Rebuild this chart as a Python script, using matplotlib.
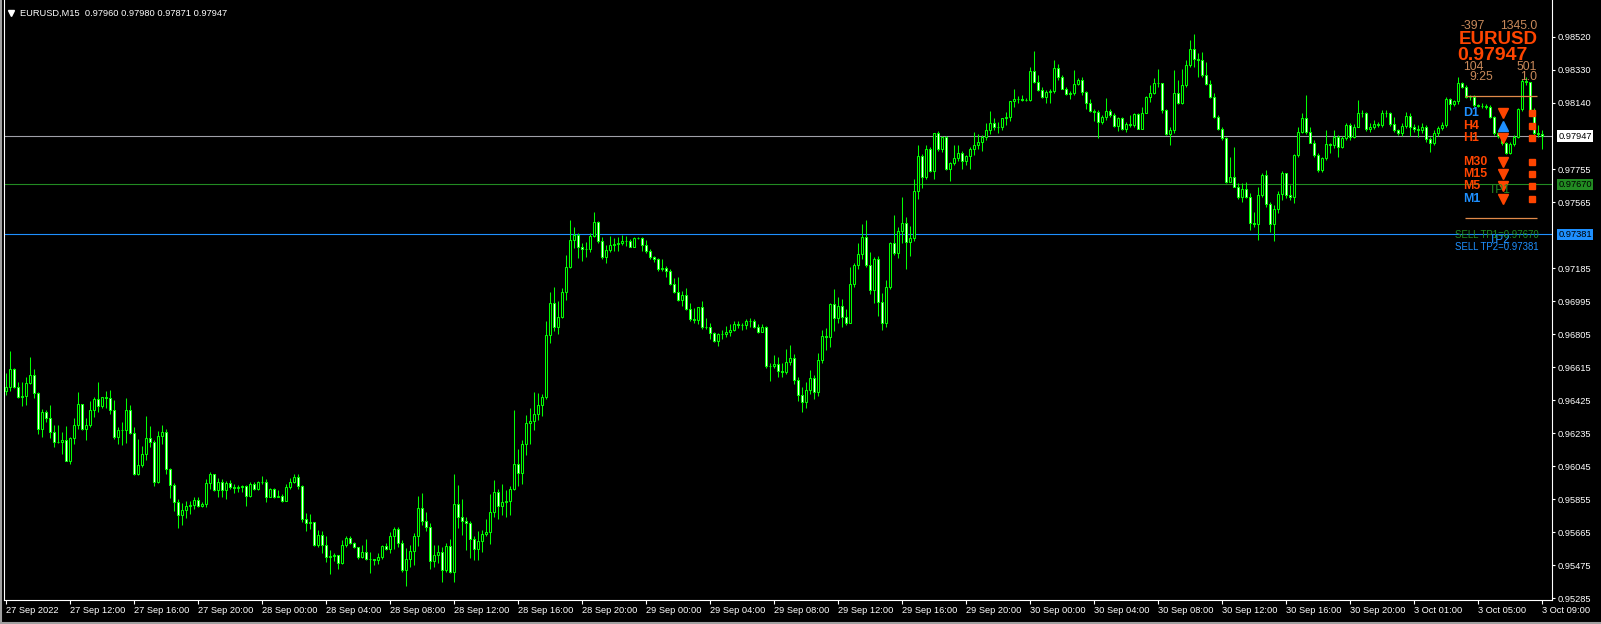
"""EURUSD M15 candlestick chart, MetaTrader style (Green on Black)."""

import matplotlib

matplotlib.use("Agg")
import matplotlib.pyplot as plt
import numpy as np
from matplotlib.lines import Line2D

# Bar data in points (1e-5). Open of each bar = close of the previous one.
first_open = 96480
closes = [
    96504, 96603, 96500, 96446, 96450, 96523, 96571, 96469, 96262, 96358,
    96321, 96244, 96187, 96187, 96196, 96077, 96206, 96281, 96404, 96258,
    96281, 96369, 96431, 96392, 96442, 96436, 96369, 96216, 96254, 96254,
    96369, 96235, 96001, 96050, 96116, 96206, 96187, 95951, 96219, 96242,
    96031, 95935, 95836, 95763, 95793, 95816, 95822, 95851, 95818, 95826,
    95947, 96001, 95908, 95956, 95908, 95947, 95924, 95920, 95924, 95928,
    95876, 95943, 95912, 95951, 95956, 95870, 95912, 95866, 95876, 95847,
    95924, 95951, 95981, 95928, 95739, 95720, 95722, 95590, 95647, 95593,
    95524, 95528, 95532, 95486, 95590, 95632, 95601, 95578, 95524, 95553,
    95513, 95509, 95505, 95521, 95586, 95570, 95644, 95682, 95605, 95448,
    95509, 95559, 95644, 95805, 95732, 95697, 95496, 95534, 95551, 95448,
    95586, 95438, 95828, 95755, 95732, 95720, 95628, 95567, 95613, 95655,
    95667, 95782, 95897, 95813, 95839, 95845, 95912, 96058, 96005, 96173,
    96293, 96308, 96346, 96398, 96444, 96801, 96984, 96846, 96907, 97049,
    97191, 97349, 97377, 97306, 97295, 97297, 97372, 97452, 97345, 97249,
    97291, 97318, 97326, 97329, 97341, 97345, 97310, 97358, 97360, 97318,
    97287, 97249, 97237, 97180, 97187, 97172, 97093, 97051, 97003, 97030,
    96953, 96892, 96888, 96961, 96846, 96849, 96811, 96769, 96807, 96807,
    96817, 96830, 96865, 96861, 96857, 96880, 96880, 96849, 96821, 96846,
    96625, 96625, 96634, 96596, 96588, 96646, 96669, 96542, 96456, 96415,
    96484, 96553, 96473, 96657, 96795, 96792, 96980, 96899, 96968, 96907,
    96872, 97095, 97203, 97268, 97364, 97206, 97060, 97237, 96993, 96872,
    97076, 97329, 97275, 97398, 97444, 97337, 97358, 97629, 97832, 97709,
    97871, 97744, 97963, 97871, 97944, 97759, 97790, 97819, 97851, 97805,
    97832, 97871, 97894, 97911, 97944, 97982, 98024, 98001, 98001, 98049,
    98055, 98147, 98159, 98162, 98155, 98155, 98324, 98260, 98212, 98174,
    98201, 98205, 98337, 98285, 98220, 98187, 98193, 98247, 98270, 98203,
    98136, 98093, 98086, 98030, 98055, 98090, 98068, 98005, 98051, 97986,
    98017, 98013, 98072, 97990, 98082, 98170, 98193, 98251, 98255, 98097,
    97959, 97982, 98193, 98139, 98241, 98356, 98447, 98389, 98385, 98299,
    98247, 98174, 98055, 97986, 97934, 97684, 97709, 97656, 97594, 97640,
    97598, 97444, 97442, 97606, 97723, 97556, 97441, 97525, 97613, 97732,
    97608, 97598, 97836, 97972, 98049, 97972, 97909, 97836, 97752, 97819,
    97901, 97896, 97940, 97886, 97934, 98011, 97940, 98001, 98078, 98078,
    97986, 98001, 98017, 98011, 98078, 98078, 98017, 97982, 97963, 98005,
    98063, 98001, 97986, 97982, 98001, 97928, 97905, 97963, 97993, 98009,
    98159, 98132, 98147, 98251, 98232, 98174, 98170, 98126, 98120, 98120,
    98116, 98055, 97963, 97947, 97905, 97851, 97901, 97944, 98101, 98266,
    98260, 98097, 97963, 97960, 97947,
]
highs = [
    96580, 96709, 96609, 96532, 96532, 96561, 96676, 96603, 96473, 96377,
    96369, 96398, 96283, 96283, 96244, 96277, 96212, 96321, 96473, 96404,
    96323, 96423, 96446, 96532, 96446, 96479, 96484, 96427, 96273, 96302,
    96438, 96398, 96269, 96202, 96162, 96335, 96277, 96196, 96250, 96285,
    96258, 96035, 95947, 95855, 95835, 95843, 95847, 95870, 95866, 95839,
    95972, 96012, 96001, 95978, 95974, 95960, 95966, 95943, 95937, 95937,
    95939, 95954, 95954, 95962, 95989, 95970, 95920, 95920, 95908, 95882,
    95943, 95976, 96001, 96001, 95935, 95778, 95770, 95724, 95678, 95672,
    95643, 95563, 95544, 95534, 95620, 95643, 95640, 95609, 95582, 95592,
    95626, 95551, 95513, 95544, 95592, 95605, 95668, 95697, 95693, 95621,
    95573, 95592, 95659, 95874, 95889, 95782, 95717, 95590, 95592, 95582,
    95605, 95624, 96001, 95937, 95857, 95751, 95732, 95640, 95669, 95678,
    95740, 95886, 95966, 95912, 95943, 95909, 95928, 96366, 96143, 96193,
    96341, 96381, 96473, 96465, 96462, 96884, 97049, 97076, 96999, 97070,
    97262, 97464, 97425, 97387, 97329, 97339, 97387, 97510, 97460, 97368,
    97320, 97372, 97358, 97368, 97379, 97372, 97352, 97364, 97368, 97364,
    97349, 97295, 97256, 97243, 97237, 97199, 97180, 97128, 97137, 97057,
    97072, 96984, 96955, 96965, 96997, 96897, 96869, 96821, 96815, 96830,
    96853, 96865, 96880, 96880, 96872, 96892, 96897, 96892, 96865, 96865,
    96853, 96638, 96686, 96673, 96640, 96720, 96745, 96690, 96560, 96500,
    96530, 96600, 96570, 96700, 96830, 96840, 96984, 97064, 97022, 97007,
    96949, 97195, 97214, 97329, 97441, 97464, 97279, 97252, 97256, 97041,
    97118, 97337, 97490, 97425, 97598, 97483, 97429, 97698, 97894, 97844,
    97894, 97886, 97967, 97974, 97947, 97947, 97798, 97894, 97894, 97859,
    97840, 97882, 97970, 97959, 97951, 98020, 98090, 98051, 98028, 98051,
    98086, 98151, 98216, 98178, 98182, 98166, 98347, 98435, 98297, 98228,
    98212, 98220, 98385, 98362, 98297, 98228, 98209, 98328, 98283, 98289,
    98209, 98162, 98105, 98097, 98066, 98166, 98101, 98078, 98059, 98059,
    98028, 98066, 98078, 98078, 98113, 98178, 98241, 98281, 98331, 98251,
    98101, 98001, 98328, 98270, 98331, 98385, 98500, 98535, 98424, 98431,
    98376, 98270, 98193, 98068, 98001, 97944, 97828, 97886, 97675, 97675,
    97684, 97617, 97512, 97656, 97733, 97752, 97569, 97550, 97633, 97744,
    97733, 97665, 97844, 98001, 98078, 98184, 98001, 97924, 97852, 97828,
    97982, 97909, 97982, 97953, 97947, 98024, 98020, 98017, 98155, 98097,
    98088, 98020, 98040, 98030, 98097, 98097, 98088, 98055, 97986, 98020,
    98088, 98078, 98017, 98011, 98020, 98011, 97940, 97982, 98005, 98030,
    98174, 98164, 98155, 98289, 98260, 98241, 98184, 98184, 98132, 98136,
    98132, 98126, 98063, 97972, 97959, 97915, 97915, 97953, 98107, 98274,
    98289, 98260, 98107, 98011, 97980,
]
lows = [
    96456, 96481, 96494, 96436, 96392, 96398, 96519, 96436, 96231, 96212,
    96302, 96206, 96154, 96177, 96116, 96077, 96058, 96173, 96262, 96254,
    96196, 96273, 96331, 96358, 96379, 96381, 96346, 96200, 96173, 96168,
    96177, 96231, 95995, 95995, 96043, 96081, 96158, 95933, 95947, 96173,
    96001, 95864, 95789, 95690, 95707, 95749, 95770, 95799, 95807, 95812,
    95812, 95912, 95901, 95870, 95870, 95855, 95912, 95893, 95895, 95899,
    95816, 95870, 95905, 95905, 95943, 95839, 95870, 95864, 95866, 95839,
    95843, 95912, 95947, 95916, 95724, 95674, 95684, 95586, 95582, 95547,
    95494, 95425, 95496, 95451, 95482, 95580, 95597, 95572, 95513, 95517,
    95505, 95428, 95478, 95480, 95513, 95563, 95547, 95567, 95582, 95438,
    95356, 95467, 95477, 95586, 95707, 95674, 95452, 95467, 95486, 95375,
    95438, 95429, 95375, 95688, 95649, 95563, 95515, 95505, 95502, 95553,
    95640, 95598, 95755, 95740, 95765, 95755, 95765, 95905, 95932, 95943,
    96110, 96174, 96254, 96312, 96335, 96431, 96757, 96826, 96807, 96897,
    97003, 97185, 97301, 97243, 97230, 97253, 97281, 97364, 97329, 97237,
    97214, 97281, 97287, 97287, 97320, 97314, 97306, 97326, 97352, 97287,
    97276, 97237, 97224, 97172, 97172, 97137, 97089, 97045, 96999, 96968,
    96945, 96884, 96869, 96865, 96834, 96834, 96776, 96763, 96738, 96776,
    96792, 96796, 96826, 96840, 96830, 96838, 96846, 96842, 96815, 96821,
    96609, 96538, 96609, 96561, 96560, 96575, 96630, 96520, 96420, 96360,
    96380, 96460, 96430, 96450, 96640, 96715, 96734, 96826, 96868, 96849,
    96859, 96868, 97080, 97179, 97237, 97195, 97037, 96988, 96911, 96830,
    96845, 97068, 97262, 97245, 97329, 97183, 97256, 97345, 97586, 97648,
    97702, 97740, 97702, 97863, 97855, 97752, 97690, 97782, 97802, 97759,
    97782, 97759, 97836, 97871, 97863, 97924, 97959, 97982, 97967, 97982,
    98013, 98036, 98113, 98139, 98147, 98147, 98151, 98255, 98205, 98168,
    98139, 98139, 98193, 98270, 98216, 98182, 98159, 98186, 98241, 98182,
    98101, 98086, 98036, 97936, 98017, 98040, 98055, 98001, 97978, 97982,
    97970, 98001, 98001, 97986, 97986, 98078, 98143, 98189, 98232, 98082,
    97953, 97896, 97963, 98132, 98132, 98232, 98347, 98347, 98289, 98289,
    98241, 98164, 98049, 97982, 97924, 97679, 97690, 97652, 97587, 97569,
    97588, 97406, 97425, 97348, 97598, 97540, 97396, 97345, 97506, 97579,
    97588, 97579, 97563, 97828, 97963, 97959, 97905, 97828, 97742, 97742,
    97809, 97848, 97876, 97828, 97876, 97924, 97924, 97934, 97997, 98059,
    97978, 97972, 97986, 98001, 98001, 98059, 98005, 97972, 97953, 97947,
    97992, 97947, 97972, 97944, 97963, 97915, 97857, 97896, 97947, 97982,
    98001, 98097, 98120, 98132, 98222, 98164, 98155, 98116, 98113, 98107,
    98105, 98049, 97953, 97934, 97896, 97844, 97844, 97890, 97934, 98093,
    98241, 98088, 97953, 97940, 97871,
]

time_labels = [
    "27 Sep 2022", "27 Sep 12:00", "27 Sep 16:00", "27 Sep 20:00",
    "28 Sep 00:00", "28 Sep 04:00", "28 Sep 08:00", "28 Sep 12:00",
    "28 Sep 16:00", "28 Sep 20:00", "29 Sep 00:00", "29 Sep 04:00",
    "29 Sep 08:00", "29 Sep 12:00", "29 Sep 16:00", "29 Sep 20:00",
    "30 Sep 00:00", "30 Sep 04:00", "30 Sep 08:00", "30 Sep 12:00",
    "30 Sep 16:00", "30 Sep 20:00", "3 Oct 01:00", "3 Oct 05:00",
    "3 Oct 09:00",
]
bars_per_label = 16

price_ticks = [
    0.98520, 0.98330, 0.98140, 0.97755, 0.97565, 0.97185, 0.96995, 0.96805,
    0.96615, 0.96425, 0.96235, 0.96045, 0.95855, 0.95665, 0.95475, 0.95285,
]

bid = 0.97947
tp1 = 0.97670
tp2 = 0.97381
range_hi = 0.98178
range_lo = 0.97473

header = "EURUSD,M15  0.97960 0.97980 0.97871 0.97947"

# signal table rows: (label, label colour, arrow up?)
signal_rows = [
    ("D1", "#1E90FF", False),
    ("H4", "#FF4500", True),
    ("H1", "#FF4500", False),
    ("M30", "#FF4500", False),
    ("M15", "#FF4500", False),
    ("M5", "#FF4500", False),
    ("M1", "#1E90FF", False),
]
row_y = [113, 125.5, 138, 162, 174, 186.5, 198.5]

LIME = "#00FF00"
RED = "#FF4500"
TAN = "#C8895A"
GREEN = "#228B22"
BLUE = "#1E90FF"
FONT = "Liberation Sans"

W, H = 1601, 624
fig = plt.figure(figsize=(W / 100, H / 100), dpi=100, facecolor="black")
ax = fig.add_axes([4 / W, 24 / H, 1548 / W, 600 / H])
ax.set_facecolor("black")

c = np.array(closes) / 1e5
o = np.concatenate([[first_open], closes[:-1]]) / 1e5
hi = np.maximum(np.array(highs) / 1e5, np.maximum(o, c))
lo = np.minimum(np.array(lows) / 1e5, np.minimum(o, c))
x = np.arange(len(c))

ax.set_xlim(-0.375, 386.625)
ax.set_ylim(0.95274, 0.98731)

# candles
ax.vlines(x, lo, hi, color=LIME, lw=0.75, zorder=3)
up = c >= o
ax.bar(x[up], (c - o)[up], bottom=o[up], width=0.5, color="black",
       edgecolor=LIME, lw=0.75, zorder=4)
ax.bar(x[~up], (c - o)[~up], bottom=o[~up], width=0.5, color="white",
       edgecolor=LIME, lw=0.75, zorder=4)

# horizontal levels
ax.axhline(bid, color="#A0A0A8", lw=0.8, zorder=2)
ax.axhline(tp1, color=GREEN, lw=0.8, zorder=2)
ax.axhline(tp2, color=BLUE, lw=0.8, zorder=2)
ax.hlines([range_hi, range_lo], 364.9, 382.9, color="#E08A4A", lw=0.9, zorder=5)

# axes frame and ticks
for side in ("top",):
    ax.spines[side].set_visible(False)
for side in ("left", "right", "bottom"):
    ax.spines[side].set_color("white")
    ax.spines[side].set_linewidth(0.8)

ax.set_xticks(np.arange(len(time_labels)) * bars_per_label)
ax.set_xticklabels(time_labels)
for lbl in ax.get_xticklabels():
    lbl.set_horizontalalignment("left")
ax.tick_params(axis="x", colors="white", length=3, width=0.8, pad=1.5,
               labelsize=6.7)

ax.yaxis.tick_right()
ax.set_yticks(price_ticks)
ax.set_yticklabels([f"{p:.5f}" for p in price_ticks])
ax.tick_params(axis="y", colors="white", length=2.2, width=0.8, pad=1.5,
               labelsize=6.7)
for lbl in ax.get_xticklabels() + ax.get_yticklabels():
    lbl.set_family(FONT)

# price tags on the scale
for val, fc in ((bid, "white"), (tp1, GREEN), (tp2, BLUE)):
    ax.annotate(f"{val:.5f}", xy=(1, val), xycoords=("axes fraction", "data"),
                xytext=(4.5, 0), textcoords="offset points", va="center",
                ha="left", fontsize=6.7, family=FONT, color="black",
                bbox=dict(boxstyle="square,pad=0.12", fc=fc, ec="none"),
                annotation_clip=False, zorder=10)


def put(px, py, s, **kw):
    fig.text(px / W, 1 - py / H, s, va="center", family=FONT, **kw)


def mark(px, py, m, ms, col):
    fig.add_artist(Line2D([px / W], [1 - py / H], marker=m, ms=ms, color=col,
                          mec=col, transform=fig.transFigure, ls="none"))


put(20, 13, header, color="white", fontsize=6.7)
mark(11, 12.5, "v", 4, "white")

# info panel
put(1460, 26, "-397", color=TAN, fontsize=8.8)
put(1537, 26, "1345.0", color=TAN, fontsize=8.8, ha="right")
put(1459, 40, "EURUSD", color=RED, fontsize=13.5, weight="bold")
put(1457, 55, "0.97947", color=RED, fontsize=14, weight="bold")
put(1463, 66.5, "104", color=TAN, fontsize=8.8)
put(1537, 66.5, "501", color=TAN, fontsize=8.8, ha="right")
put(1469, 77, "9:25", color=TAN, fontsize=8.8)
put(1537, 77, "1.0", color=TAN, fontsize=8.8, ha="right")

for (name, col, is_up), py in zip(signal_rows, row_y):
    put(1463, py, name, color=col, fontsize=8.9, weight="bold")
    if is_up:
        mark(1503, py, "^", 7, BLUE)
    else:
        mark(1503, py, "v", 7, RED)
    mark(1532, py, "s", 5, RED)

put(1489, 190, "TP1", color=GREEN, fontsize=8.6)
put(1489, 240, "TP2", color=BLUE, fontsize=8.6)
put(1455, 235.5, "SELL TP1=0.97670", color=GREEN, fontsize=6.9)
put(1455, 247.5, "SELL TP2=0.97381", color=BLUE, fontsize=6.9)

# window border
fig.add_artist(Line2D([1 / W, 1 / W], [0, 1], color="#A0A0A0", lw=1.5,
                      transform=fig.transFigure))
fig.add_artist(Line2D([0, 1], [1.5 / H, 1.5 / H], color="#A0A0A0", lw=1.5,
                      transform=fig.transFigure))

fig.savefig("out.png", dpi=100, facecolor="black")
